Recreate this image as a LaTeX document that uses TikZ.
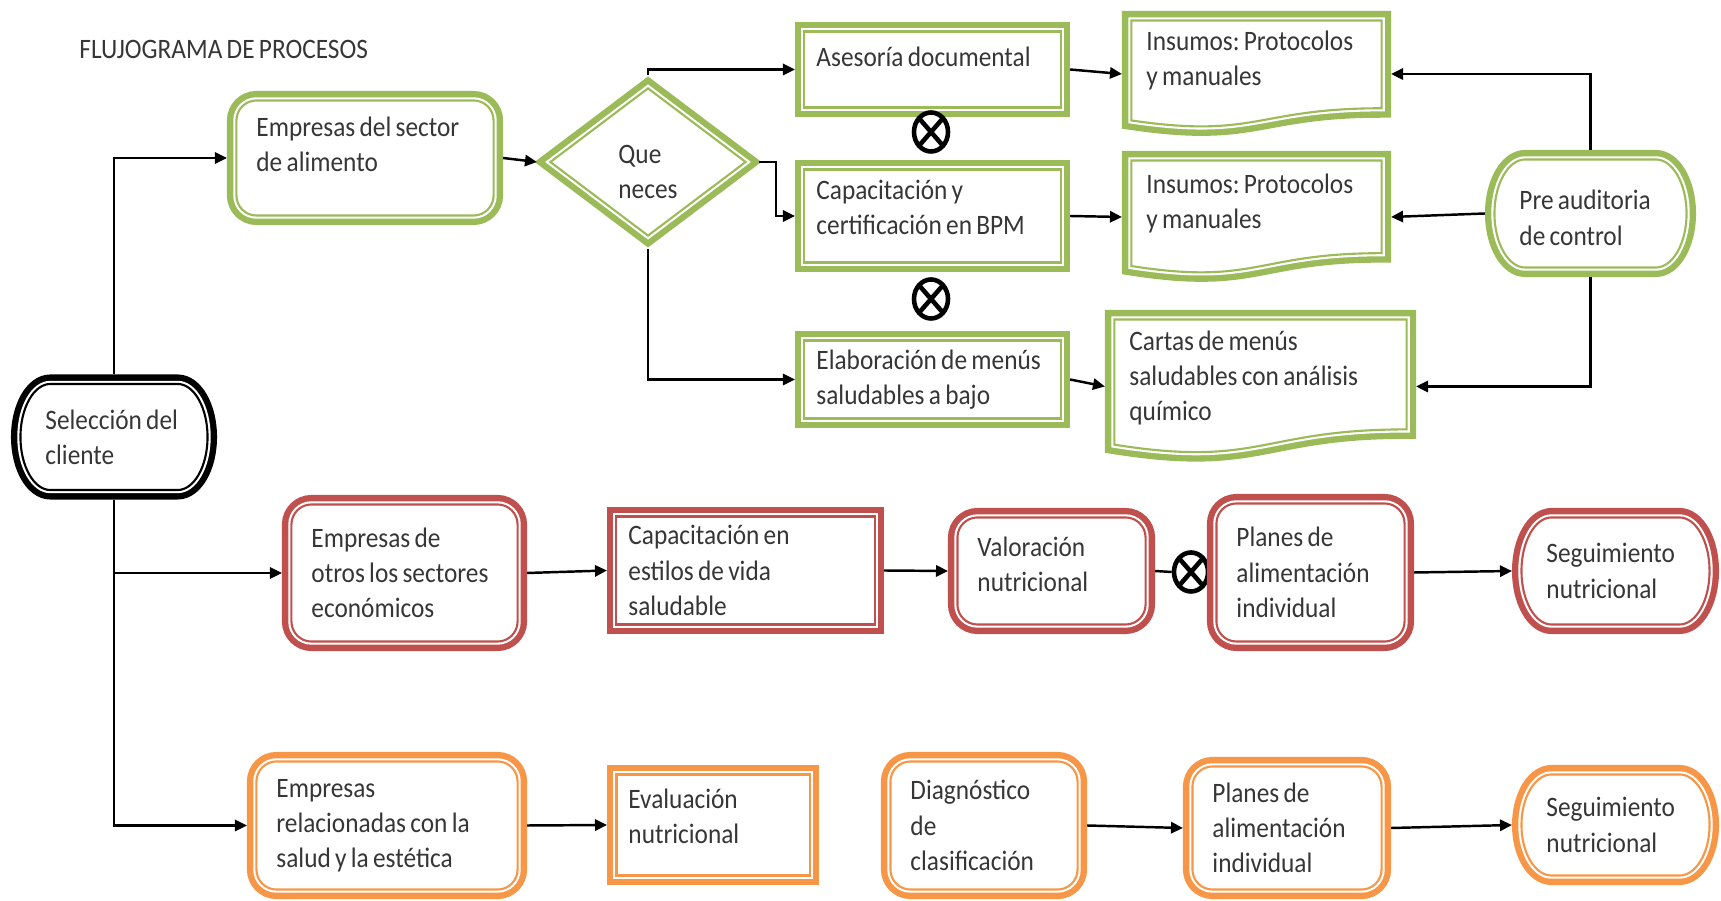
\documentclass[tikz,border=0pt]{standalone}
\usepackage{fontspec}
\setmainfont{Carlito}[FakeStretch=0.9, WordSpace=0.75]
\frenchspacing
\usepackage{xcolor}
\definecolor{flowGreen}{HTML}{9BBB59}
\definecolor{flowRed}{HTML}{C0504D}
\definecolor{flowOrange}{HTML}{F79646}
\definecolor{textDark}{HTML}{363636}
\usepackage{tikz}
\usetikzlibrary{arrows.meta,calc,shapes.geometric,backgrounds}
\tikzset{%
  band/.style={%
    preaction={draw=#1, line width=5.4pt},
    draw=white,
    line width=1.8pt,
    fill=white,
    postaction={draw=#1, line width=0.6pt},
    outer sep=2.7pt
  },
  processBox/.style={%
    rectangle,
    band=#1,
    inner xsep=0.12cm,
    inner ysep=0pt,
    align=flush left
  },
  roundBox/.style={%
    rectangle,
    rounded corners=0.2cm,
    band=#1,
    inner xsep=0.2cm,
    inner ysep=0pt,
    align=flush left
  },
  docBox/.style={%
    rectangle,
    inner xsep=0.15cm,
    inner ysep=0pt,
    outer sep=2.7pt,
    align=flush left
  },
  termBox/.style={%
    rectangle,
    inner xsep=0.25cm,
    inner ysep=0pt,
    outer sep=2.7pt,
    align=flush left
  },
  decision/.style={%
    diamond,
    band=#1,
    aspect=1.3,
    inner sep=0pt,
    align=flush left
  },
  xorMark/.style={%
    ellipse,
    draw=black,
    line width=1.3pt,
    fill=white,
    minimum width=0.34cm,
    minimum height=0.39cm,
    inner sep=0pt,
    path picture={%
      \draw[line width=1.3pt]
        (path picture bounding box.north west) -- (path picture bounding box.south east)
        (path picture bounding box.south west) -- (path picture bounding box.north east);
    }
  },
  arrowLine/.style={%
    -{Triangle[length=3.4pt,width=3.2pt]},
    line width=0.7pt,
    color=black
  }
}
% outline of a document shape (wavy bottom) round a node
\newcommand{\docOutline}[2]{%
  \coordinate (#1tl) at ([xshift=2.7pt,yshift=-2.7pt]#1.north west);
  \coordinate (#1br) at ([xshift=-2.7pt,yshift=2.7pt]#1.south east);
  \coordinate (#1tr) at (#1tl -| #1br);
  \coordinate (#1bl) at (#1br -| #1tl);
  \coordinate (#1tm) at ($(#1tl)!0.5!(#1tr)$);
  \coordinate (#1bm) at ($(#1bl)!0.5!(#1br)$);
  \begin{pgfonlayer}{background}
    \draw[band=#2] (#1tl) -- (#1tr) -- ($(#1tr)!0.82!(#1br)$)
      .. controls ($(#1tm)!0.82!(#1bm)$) and ($(#1tm)!1.107!(#1bm)$)
      .. ($(#1tl)!0.934!(#1bl)$) -- cycle;
  \end{pgfonlayer}}
% outline of a terminator (ellipse ends) round a node
\newcommand{\termOutline}[2]{%
  \coordinate (#1tl) at ([xshift=2.7pt,yshift=-2.7pt]#1.north west);
  \coordinate (#1br) at ([xshift=-2.7pt,yshift=2.7pt]#1.south east);
  \coordinate (#1tr) at (#1tl -| #1br);
  \coordinate (#1bl) at (#1br -| #1tl);
  \coordinate (#1r) at ($(#1tr)!0.5!(#1br)$);
  \coordinate (#1l) at ($(#1tl)!0.5!(#1bl)$);
  \begin{pgfonlayer}{background}
    \draw[band=#2] ($(#1tl)!0.16!(#1tr)$) -- ($(#1tl)!0.84!(#1tr)$)
      .. controls ($(#1tl)!0.928!(#1tr)$) and ($(#1r)!0.552!(#1tr)$) .. (#1r)
      .. controls ($(#1r)!0.552!(#1br)$) and ($(#1bl)!0.928!(#1br)$) .. ($(#1bl)!0.84!(#1br)$)
      -- ($(#1bl)!0.16!(#1br)$)
      .. controls ($(#1bl)!0.072!(#1br)$) and ($(#1l)!0.552!(#1bl)$) .. (#1l)
      .. controls ($(#1l)!0.552!(#1tl)$) and ($(#1tl)!0.072!(#1tr)$) .. ($(#1tl)!0.16!(#1tr)$)
      -- cycle;
  \end{pgfonlayer}}

\begin{document}
\begin{tikzpicture}[x=0.01cm, y=-0.01cm,
    every node/.style={font=\fontsize{8pt}{10pt}\selectfont, text=textDark}]
  \useasboundingbox (0,0) rectangle (1721,901);

  \node[anchor=west] (title) at (67,49) {FLUJOGRAMA DE PROCESOS};

  % cliente
  \node[termBox, text width=1.37cm, minimum height=1.06cm] (sel) at (114,437) {Selección del\\cliente};
  \termOutline{sel}{black}

  % sector de alimento
  \node[roundBox=flowGreen, text width=2.17cm, minimum height=1.15cm, text depth=18pt] (emp1) at (365,158) {Empresas del sector\\de alimento};
  \node[decision=flowGreen, minimum width=2.03cm, minimum height=1.55cm, text height=21pt] (dia) at (648,162) {Que\\neces};
  \node[processBox=flowGreen, text width=2.32cm, minimum height=0.76cm, text depth=7pt] (ase) at (932.5,69.5) {Asesoría documental};
  \node[processBox=flowGreen, text width=2.32cm, minimum height=0.93cm, text depth=15pt] (cap) at (932.5,216) {Capacitación y\\certificación en BPM};
  \node[processBox=flowGreen, text width=2.32cm, minimum height=0.78cm] (ela) at (932.5,379.5) {Elaboración de menús\\saludables a bajo};
  \node[xorMark] (xor1) at (931,132) {};
  \node[xorMark] (xor2) at (931,299) {};
  \node[docBox, text width=2.20cm, minimum height=1.07cm, text depth=19pt] (ins1) at (1256.5,74) {Insumos: Protocolos\\y manuales};
  \docOutline{ins1}{flowGreen}
  \node[docBox, text width=2.20cm, minimum height=1.13cm, text depth=19pt] (ins2) at (1256.5,217) {Insumos: Protocolos\\y manuales};
  \docOutline{ins2}{flowGreen}
  \node[docBox, text width=2.62cm, minimum height=1.34cm, text depth=26pt] (car) at (1260.5,386.5) {Cartas de menús\\saludables con análisis\\químico};
  \docOutline{car}{flowGreen}
  \node[termBox, text width=1.42cm, minimum height=1.08cm, text height=8pt] (pre) at (1590.5,213.5) {Pre auditoria\\de control};
  \termOutline{pre}{flowGreen}

  % otros sectores
  \node[roundBox=flowRed, text width=1.86cm, minimum height=1.37cm] (emp2) at (404.5,573) {Empresas de\\otros los sectores\\económicos};
  \node[processBox=flowRed, text width=2.34cm, minimum height=1.08cm] (cae) at (745.5,570.5) {Capacitación en\\estilos de vida\\saludable};
  \node[roundBox=flowRed, text width=1.48cm, minimum height=1.07cm, text depth=14pt] (val) at (1051.5,571) {Valoración\\nutricional};
  \node[xorMark] (xor3) at (1191,572) {};
  \node[roundBox=flowRed, text width=1.48cm, minimum height=1.38cm] (pla2) at (1310.5,572.5) {Planes de\\alimentación\\individual};
  \node[termBox, text width=1.38cm, minimum height=1.07cm] (seg2) at (1615.5,571) {Seguimiento\\nutricional};
  \termOutline{seg2}{flowRed}

  % salud y estetica
  \node[roundBox=flowOrange, text width=2.21cm, minimum height=1.28cm] (emp3) at (387,825.5) {Empresas\\relacionadas con la\\salud y la estética};
  \node[processBox=flowOrange, text width=1.69cm, minimum height=1.01cm, text depth=15pt] (eva) at (713,825) {Evaluación\\nutricional};
  \node[roundBox=flowOrange, text width=1.47cm, minimum height=1.28cm] (dia3) at (984,825.5) {Diagnóstico\\de\\clasificación};
  \node[roundBox=flowOrange, text width=1.49cm, minimum height=1.23cm] (pla3) at (1287,828) {Planes de\\alimentación\\individual};
  \node[termBox, text width=1.38cm, minimum height=1.01cm] (seg3) at (1615.5,825) {Seguimiento\\nutricional};
  \termOutline{seg3}{flowOrange}

  \draw[arrowLine] (sel.north) |- (emp1.west);
  \draw[arrowLine] (emp1.east) -- (dia.west);
  \draw[arrowLine] (dia.north) |- (ase.west);
  \draw[arrowLine] (dia.east) -- ++(17,0) |- (cap.west);
  \draw[arrowLine] (dia.south) |- (ela.west);
  \draw[arrowLine] (ase.east) -- (ins1.west);
  \draw[arrowLine] (cap.east) -- (ins2.west);
  \draw[arrowLine] (ela.east) -- (car.west);
  \draw[arrowLine] (pre.north) |- (ins1.east);
  \draw[arrowLine] (pre.west) -- (ins2.east);
  \draw[arrowLine] (pre.south) |- (car.east);

  \draw[arrowLine] (sel.south) |- (emp2.west);
  \draw[arrowLine] (sel.south) |- (emp3.west);
  \draw[arrowLine] (emp2.east) -- (cae.west);
  \draw[arrowLine] (cae.east) -- (val.west);
  \draw[line width=0.7pt] (val.east) -- (xor3.west);
  \draw[arrowLine] (pla2.east) -- (seg2.west);

  \draw[arrowLine] (emp3.east) -- (eva.west);
  \draw[arrowLine] (dia3.east) -- (pla3.west);
  \draw[arrowLine] (pla3.east) -- (seg3.west);
\end{tikzpicture}
\end{document}
